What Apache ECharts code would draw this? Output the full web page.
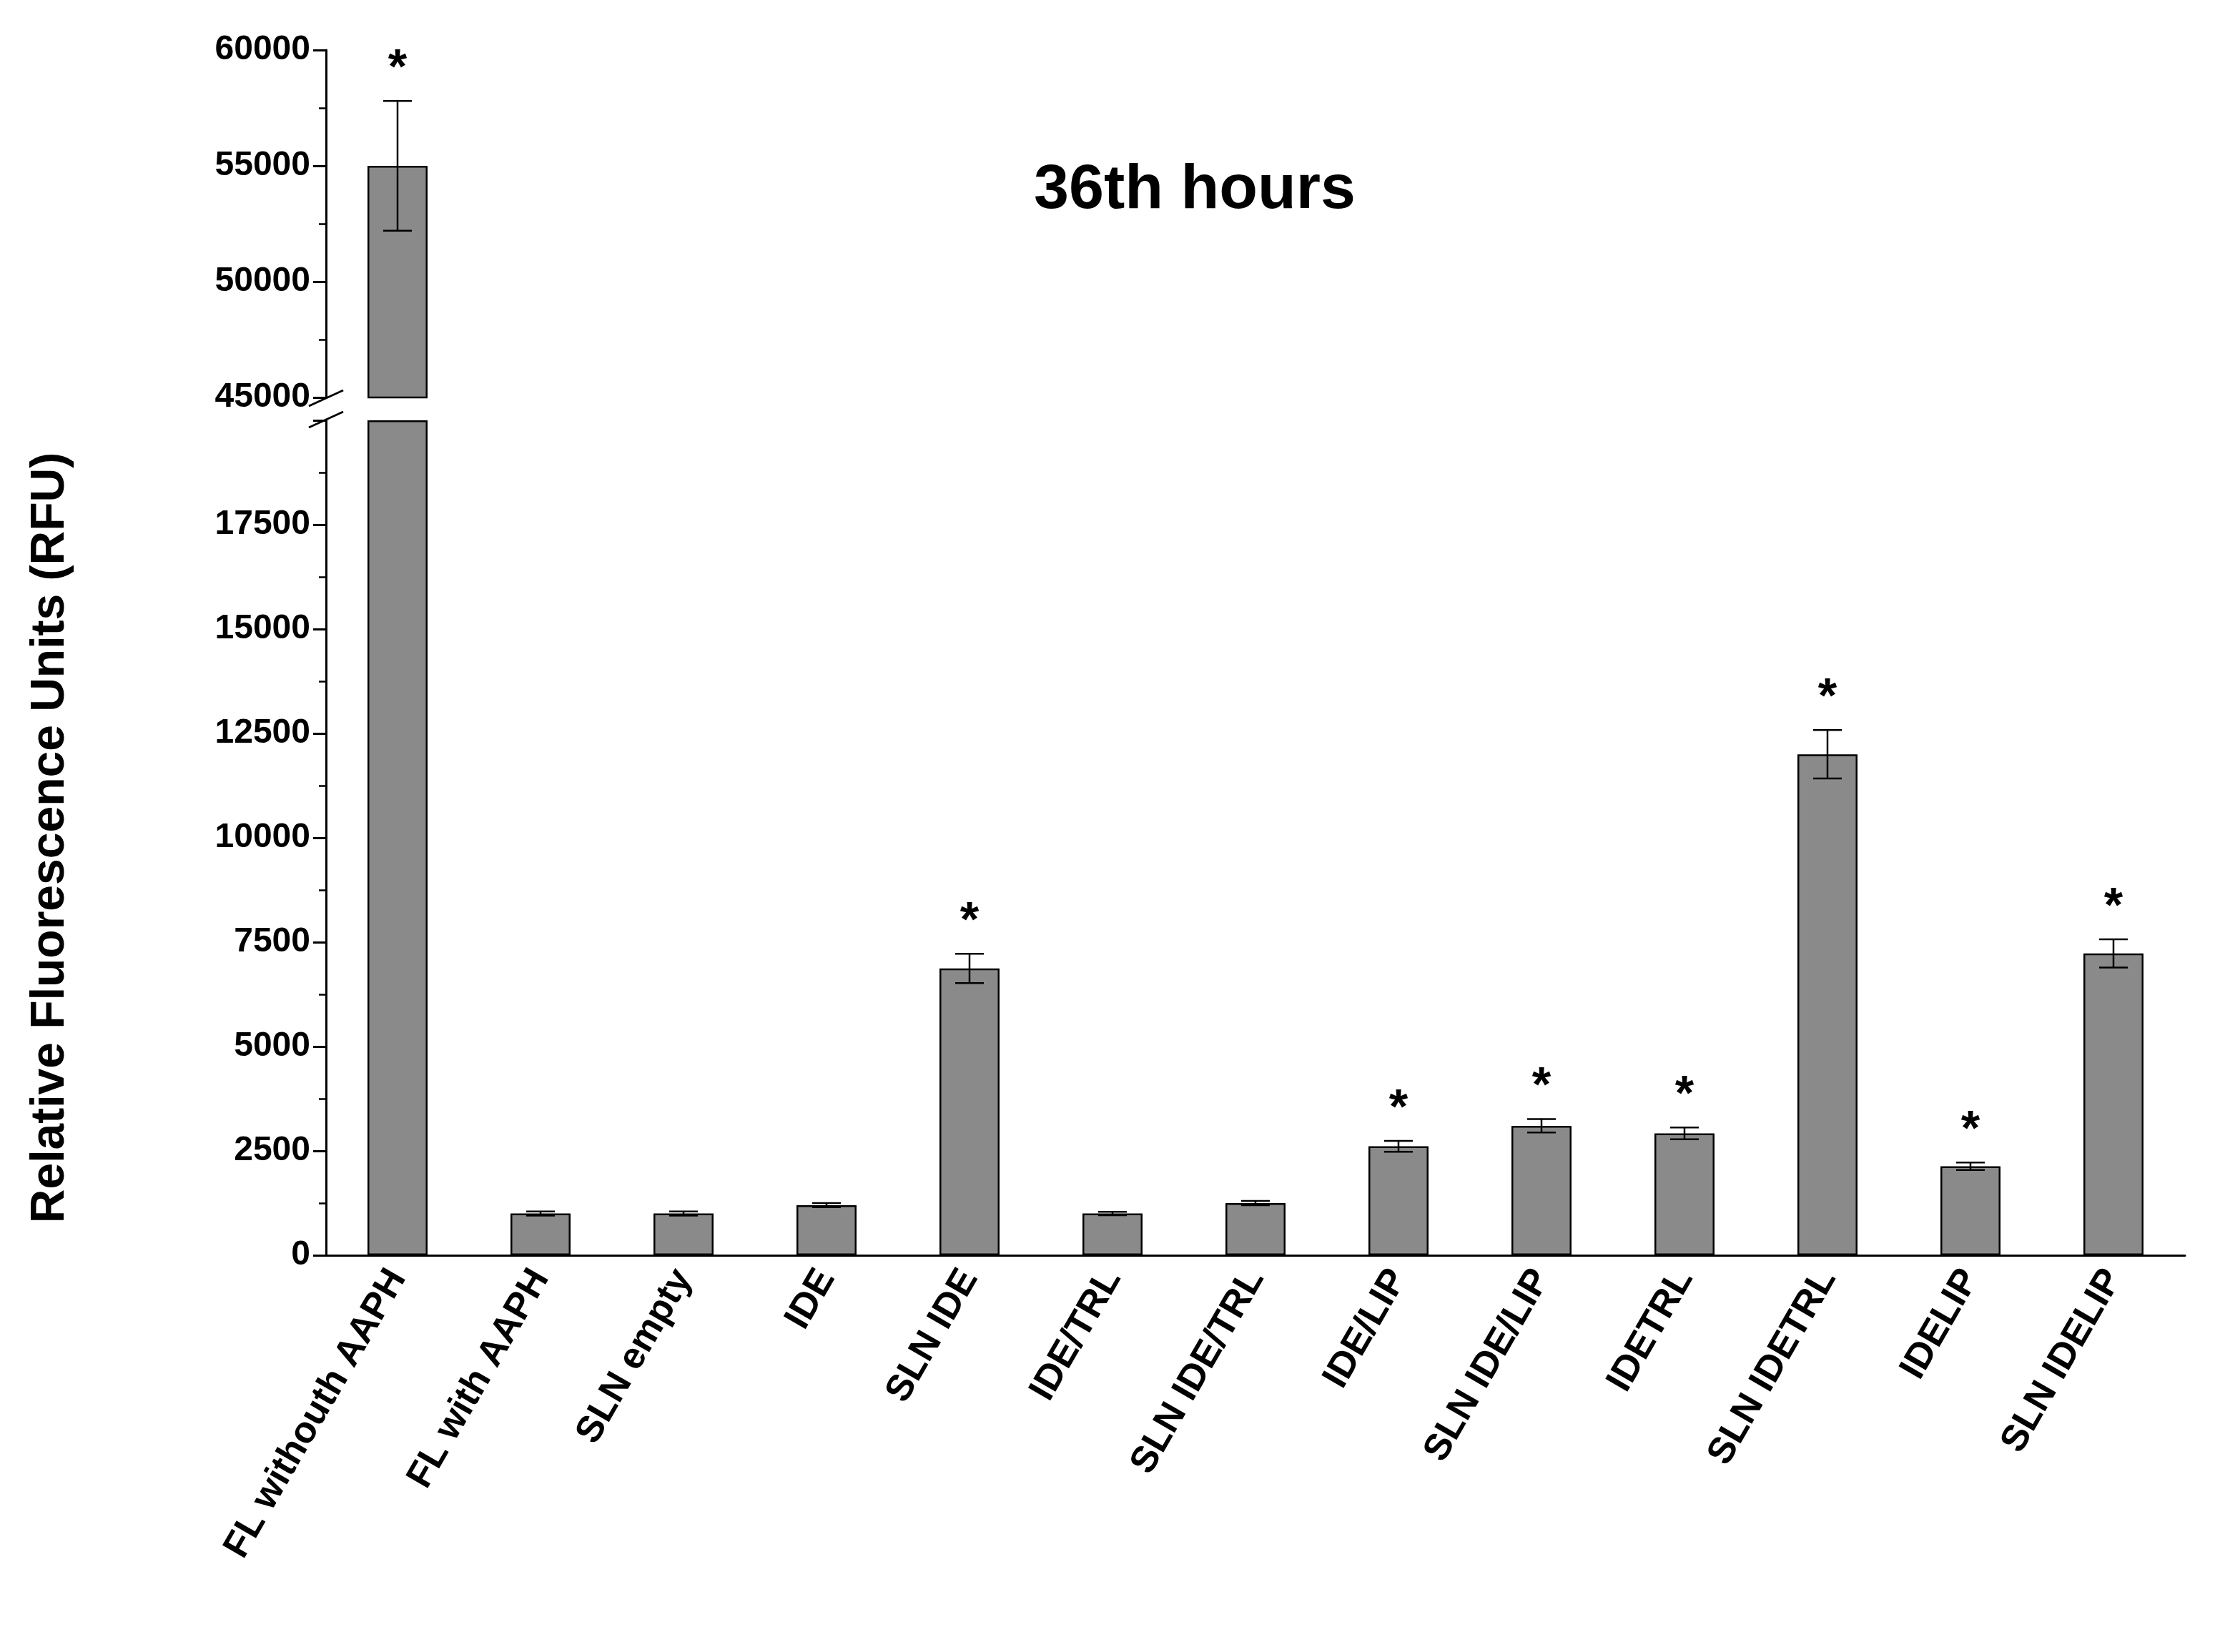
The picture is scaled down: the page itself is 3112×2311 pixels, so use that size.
<!DOCTYPE html>
<html>
<head>
<meta charset="utf-8">
<script src="https://cdn.jsdelivr.net/npm/echarts@6/dist/echarts.min.js"></script>
<style>html,body{margin:0;padding:0;background:#fff}#chart{width:3112px;height:2311px}</style>
</head>
<body>
<div id="chart"></div>
<script>
const categories = ['FL withouth AAPH','FL with AAPH','SLN empty','IDE','SLN IDE','IDE/TRL','SLN IDE/TRL','IDE/LIP','SLN IDE/LIP','IDETRL','SLN IDETRL','IDELIP','SLN IDELIP'];
const means  = [55000, 1000, 1000, 1200, 6870, 1000, 1250, 2610, 3100, 2920, 12000, 2130, 7230];
const errors = [2800, 50, 50, 50, 350, 40, 50, 130, 160, 140, 580, 90, 340];
const stars  = [true, false, false, false, true, false, false, true, true, true, true, true, true];
const lowerMax = 20000;
const upperMin = 45000;

const font = 'Liberation Sans, Arial, sans-serif';

// bars in the lower segment are clipped at the break
let lowerBars = means.map(v => Math.min(v, lowerMax));
let upperBars = means.map(v => v > upperMin ? v : '-');
let lowerErr = [], upperErr = [];
means.forEach((v, i) => {
    let row = [i, v, errors[i], stars[i] ? 1 : 0];
    if (v > upperMin) upperErr.push(row); else lowerErr.push(row);
});

function renderErr(params, api){
    let i = api.value(0), m = api.value(1), e = api.value(2), s = api.value(3);
    let hi = api.coord([i, m + e]);
    let lo = api.coord([i, m - e]);
    let cap = 20;
    let style = {stroke:'#000', lineWidth:2.5};
    let children = [
        {type:'line', shape:{x1:hi[0], y1:hi[1], x2:lo[0], y2:lo[1]}, style:style},
        {type:'line', shape:{x1:hi[0]-cap, y1:hi[1], x2:hi[0]+cap, y2:hi[1]}, style:style},
        {type:'line', shape:{x1:lo[0]-cap, y1:lo[1], x2:lo[0]+cap, y2:lo[1]}, style:style}
    ];
    if (s) children.push({type:'text', x:hi[0], y:hi[1]-10, style:{text:'*', fill:'#000', font:'bold 68px '+font, align:'center', verticalAlign:'bottom'}});
    return {type:'group', children:children};
}

const barStyle = {color:'#8a8a8a', borderColor:'#000', borderWidth:2.5};
const labelStyle = {color:'#000', fontWeight:'bold', fontSize:48, fontFamily:font};

var myChart = echarts.init(document.getElementById('chart'));
var option = {
    animation:false,
    title:{text:'36th hours', left:1666, top:218, textAlign:'center',
        textStyle:{fontSize:88, fontWeight:'bold', color:'#000', fontFamily:font}},
    grid:[
        {left:456, width:2600, top:70, height:486},
        {left:456, width:2600, top:588, height:1168}
    ],
    xAxis:[
        {gridIndex:0, type:'category', data:categories, show:false},
        {gridIndex:1, type:'category', data:categories,
            axisLine:{lineStyle:{color:'#000', width:3}},
            axisTick:{alignWithLabel:true, length:12, lineStyle:{width:3}},
            axisLabel:Object.assign({interval:0, rotate:60, margin:24}, labelStyle, {fontSize:52})}
    ],
    yAxis:[
        {gridIndex:0, type:'value', min:upperMin, max:60000, interval:5000,
            splitLine:{show:false},
            axisLine:{show:true, lineStyle:{color:'#000', width:3}},
            axisTick:{show:true, length:18, lineStyle:{width:3}},
            minorTick:{show:true, splitNumber:2, length:10, lineStyle:{color:'#000', width:2.5}},
            axisLabel:Object.assign({margin:22, formatter:v => String(v)}, labelStyle)},
        {gridIndex:1, type:'value', min:0, max:lowerMax, interval:2500,
            name:'Relative Fluorescence Units (RFU)', nameLocation:'middle', nameGap:352,
            nameTextStyle:{fontSize:66, fontWeight:'bold', color:'#000', fontFamily:font},
            splitLine:{show:false},
            axisLine:{show:true, lineStyle:{color:'#000', width:3}},
            axisTick:{show:true, length:18, lineStyle:{width:3}},
            minorTick:{show:true, splitNumber:2, length:10, lineStyle:{color:'#000', width:2.5}},
            axisLabel:Object.assign({margin:22, formatter:v => v === lowerMax ? '' : String(v)}, labelStyle)}
    ],
    series:[
        {type:'bar', xAxisIndex:0, yAxisIndex:0, data:upperBars, barWidth:84, itemStyle:barStyle},
        {type:'bar', xAxisIndex:1, yAxisIndex:1, data:lowerBars, barWidth:84, itemStyle:barStyle},
        {type:'custom', xAxisIndex:0, yAxisIndex:0, data:upperErr, renderItem:renderErr, clip:false, z:5},
        {type:'custom', xAxisIndex:1, yAxisIndex:1, data:lowerErr, renderItem:renderErr, clip:false, z:5}
    ],
    graphic:[
        {type:'line', shape:{x1:432, y1:568, x2:480, y2:546}, style:{stroke:'#000', lineWidth:3}},
        {type:'line', shape:{x1:432, y1:598, x2:480, y2:576}, style:{stroke:'#000', lineWidth:3}}
    ]
};
myChart.setOption(option);
</script>
</body>
</html>
